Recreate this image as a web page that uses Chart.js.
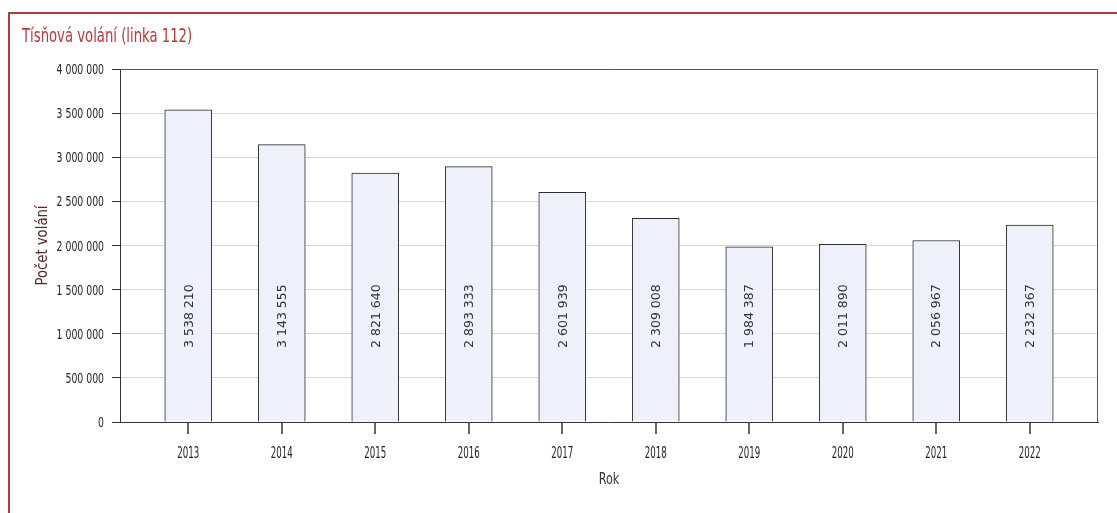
<!DOCTYPE html>
<html>
<head>
<meta charset="utf-8">
<script src="https://cdn.jsdelivr.net/npm/chart.js@4.4.0/dist/chart.umd.min.js"></script>
<style>
  html, body { margin: 0; padding: 0; background: #fff; }
  #wrap { position: relative; width: 1117px; height: 513px; overflow: hidden; }
  #frame { position: absolute; left: 8px; top: 12px; right: 0; bottom: -5px;
           border-top: 2px solid #b8393c; border-left: 2px solid #b8393c; }
  #c { position: absolute; left: 0; top: 0; }
</style>
</head>
<body>
<div id="wrap">
  <div id="frame"></div>
  <canvas id="c" width="1117" height="513"></canvas>
</div>
<script>
const chartTitle = "Tísňová volání (linka 112)";
const years = ["2013","2014","2015","2016","2017","2018","2019","2020","2021","2022"];
const calls = [3538210, 3143555, 2821640, 2893333, 2601939, 2309008, 1984387, 2011890, 2056967, 2232367];
const yTitle = "Počet volání";
const xTitle = "Rok";
const yMax = 4000000;
const yStep = 500000;
const labelCenterValue = 1200000;

const COND = "'DejaVu Sans Condensed', 'DejaVu Sans', sans-serif";

function fmt(v) {
  return String(Math.round(v)).replace(/\B(?=(\d{3})+(?!\d))/g, " ");
}

// draw text horizontally squeezed by factor sx
function squeezed(ctx, text, x, y, font, sx, align, color, rot) {
  ctx.save();
  ctx.font = font;
  ctx.fillStyle = color;
  ctx.textBaseline = 'alphabetic';
  ctx.textAlign = 'left';
  const w = ctx.measureText(text).width * sx;
  ctx.translate(x, y);
  if (rot) ctx.rotate(rot);
  let dx = 0;
  if (align === 'right') dx = -w;
  else if (align === 'center') dx = -w / 2;
  ctx.translate(dx, 0);
  ctx.scale(sx, 1);
  ctx.fillText(text, 0, 0);
  ctx.restore();
}

const textPlugin = {
  id: 'textPlugin',
  afterDraw(chart) {
    const ctx = chart.ctx;
    const a = chart.chartArea;
    const xs = chart.scales.x, ys = chart.scales.y;
    ctx.save();
    // top and right frame of plot
    ctx.strokeStyle = '#555';
    ctx.lineWidth = 1;
    ctx.beginPath();
    ctx.moveTo(a.left, a.top + 0.5);
    ctx.lineTo(a.right - 0.5, a.top + 0.5);
    ctx.lineTo(a.right - 0.5, a.bottom);
    ctx.stroke();
    // x tick marks at category centres
    ctx.strokeStyle = '#333';
    ctx.lineWidth = 1.5;
    ctx.beginPath();
    xs.ticks.forEach(t => {
      const x = Math.round(xs.getPixelForValue(t.value));
      ctx.moveTo(x, a.bottom);
      ctx.lineTo(x, a.bottom + 12);
    });
    ctx.stroke();
    ctx.restore();

    // chart title
    squeezed(ctx, chartTitle, 22, 42, "20px " + COND, 0.735, 'left', '#b8393c');

    // y tick labels
    ys.ticks.forEach(t => {
      const y = ys.getPixelForValue(t.value);
      squeezed(ctx, fmt(t.value), 104, y + 5, "14px " + COND, 0.74, 'right', '#222');
    });
    // x tick labels
    xs.ticks.forEach(t => {
      const x = xs.getPixelForValue(t.value);
      squeezed(ctx, years[t.value], x, 458, "15px " + COND, 0.64, 'center', '#222');
    });
    // axis titles
    squeezed(ctx, xTitle, (a.left + a.right) / 2, 484, "16px " + COND, 0.78, 'center', '#333');
    squeezed(ctx, yTitle, 47, (a.top + a.bottom) / 2, "15px " + COND, 0.98, 'center', '#5a2626', -Math.PI / 2);

    // value labels (rotated, inside bars)
    const meta = chart.getDatasetMeta(0);
    const yc = ys.getPixelForValue(labelCenterValue);
    ctx.save();
    ctx.fillStyle = '#333';
    ctx.font = "12.5px 'DejaVu Sans', sans-serif";
    ctx.textAlign = 'center';
    ctx.textBaseline = 'middle';
    meta.data.forEach((bar, i) => {
      ctx.save();
      ctx.translate(bar.x + 1, yc);
      ctx.rotate(-Math.PI / 2);
      ctx.fillText(fmt(calls[i]), 0, 0);
      ctx.restore();
    });
    ctx.restore();
  }
};

const points = calls.map((v, i) => ({ x: i, y: v }));

new Chart(document.getElementById('c'), {
  type: 'bar',
  data: {
    datasets: [{
      data: points,
      backgroundColor: '#eef0fa',
      borderColor: '#2a2a2a',
      borderWidth: 1,
      barThickness: 47
    }]
  },
  options: {
    responsive: false,
    animation: false,
    devicePixelRatio: 1,
    layout: { padding: { top: 69, right: 19, left: 0, bottom: 0 } },
    plugins: {
      legend: { display: false },
      tooltip: { enabled: false },
      title: { display: false }
    },
    scales: {
      x: {
        type: 'linear',
        min: -0.73,
        max: years.length - 1 + 0.73,
        offset: false,
        afterFit(s) { s.height = 91; },
        afterBuildTicks(s) { s.ticks = years.map((_, i) => ({ value: i })); },
        grid: { display: false },
        border: { display: true, color: '#333', width: 1 },
        ticks: { display: false }
      },
      y: {
        min: 0,
        max: yMax,
        afterFit(s) { s.width = 120; },
        grid: {
          color: '#d6d6d6',
          tickColor: '#333',
          tickLength: 8,
          drawTicks: true
        },
        border: { display: true, color: '#333', width: 1 },
        ticks: { stepSize: yStep, display: false }
      }
    }
  },
  plugins: [textPlugin]
});
</script>
</body>
</html>
